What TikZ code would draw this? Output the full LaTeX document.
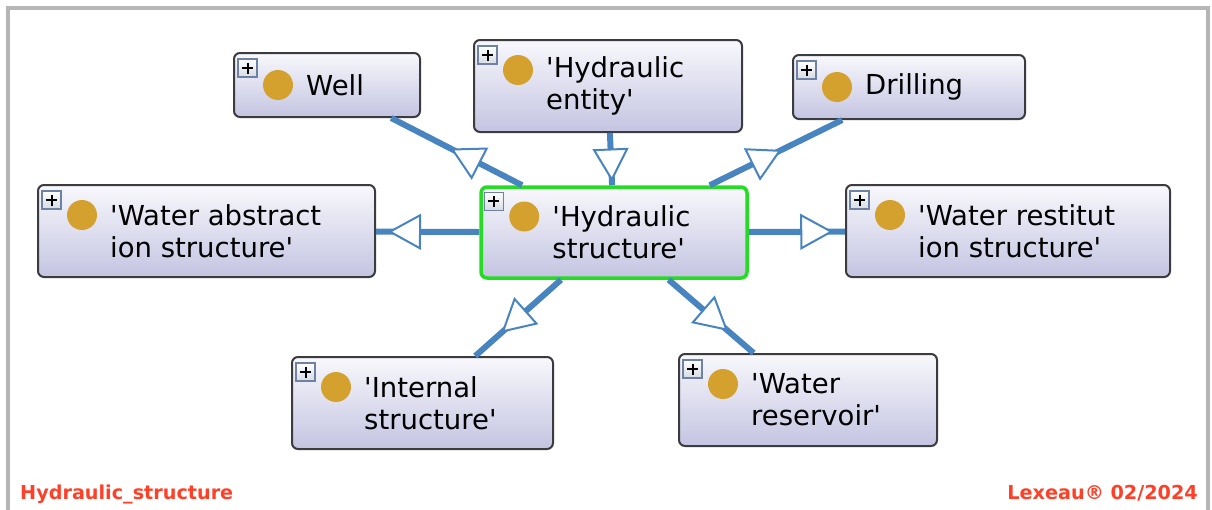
\documentclass[tikz,border=0pt]{standalone}
\usepackage{fontspec}
\setmainfont{DejaVu Sans}
\usetikzlibrary{shapes.geometric, arrows.meta}

\definecolor{framegray}{RGB}{182,182,182}
\definecolor{boxtop}{RGB}{248,248,252}
\definecolor{boxbot}{RGB}{196,196,226}
\definecolor{boxline}{RGB}{60,60,64}
\definecolor{linkblue}{RGB}{72,132,192}
\definecolor{selgreen}{RGB}{34,221,34}
\definecolor{dotgold}{RGB}{212,160,46}
\definecolor{footred}{RGB}{255,64,40}
\definecolor{plusfill}{RGB}{214,218,226}
\definecolor{plusline}{RGB}{110,130,165}

\newcommand{\sq}{\textquotesingle}

\begin{document}
\begin{tikzpicture}[
            x=1pt, y=-1pt,
            classbox/.style={rectangle, rounded corners=6pt, draw=boxline, line width=2pt, top color=boxtop, bottom color=boxbot},
            selected/.style={draw=selgreen, line width=3.5pt},
            classtext/.style={anchor=west, inner sep=0pt, align=left, font=\fontsize{27.5}{32}\selectfont},
            plusbox/.style={draw=plusline, top color=white, bottom color=plusfill, line width=1.2pt},
            link/.style={draw=linkblue, line width=6pt},
            tri/.style={isosceles triangle, isosceles triangle stretches, draw=linkblue, fill=white, line width=2pt, inner sep=0pt, minimum height=30pt, minimum width=33pt, sloped, allow upside down},
            footer/.style={text=footred, font=\bfseries\fontsize{19.2}{22}\selectfont, inner sep=0pt}
            ]

            \useasboundingbox (0,0) rectangle (1212,509);
            \draw[framegray, line width=4pt] (8,515) -- (8,8) -- (1208,8) -- (1208,515);

            % class boxes
            \node[classbox, minimum width=186pt, minimum height=64pt] (well) at (327,85) {};
            \node[classbox, minimum width=268pt, minimum height=92pt] (hent) at (608,86) {};
            \node[classbox, minimum width=232pt, minimum height=64pt] (drill) at (909,87) {};
            \node[classbox, minimum width=337pt, minimum height=92pt] (wabs) at (206.5,231) {};
            \node[classbox, selected, minimum width=266pt, minimum height=91pt] (hstr) at (614,232.5) {};
            \node[classbox, minimum width=324pt, minimum height=92pt] (wres) at (1008,231) {};
            \node[classbox, minimum width=261pt, minimum height=92pt] (intl) at (422.5,403) {};
            \node[classbox, minimum width=258pt, minimum height=92pt] (wresv) at (808,400) {};

            % names
            \node[classtext] (wellt) at ([xshift=73pt]well.west) {Well};
            \node[classtext] (hentt) at ([xshift=73pt]hent.west) {\sq Hydraulic\\entity\sq};
            \node[classtext] (drillt) at ([xshift=73pt]drill.west) {Drilling};
            \node[classtext] (wabst) at ([xshift=73pt]wabs.west) {\sq Water abstract\\ion structure\sq};
            \node[classtext] (hstrt) at ([xshift=73pt]hstr.west) {\sq Hydraulic\\structure\sq};
            \node[classtext] (wrest) at ([xshift=73pt]wres.west) {\sq Water restitut\\ion structure\sq};
            \node[classtext] (intlt) at ([xshift=73pt]intl.west) {\sq Internal\\structure\sq};
            \node[classtext] (wresvt) at ([xshift=73pt]wresv.west) {\sq Water\\reservoir\sq};

            % expand buttons and class dots
            \foreach \n/\dy in {well/0, hent/-16, drill/0, wabs/-16, hstr/-16, wres/-16, intl/-16, wresv/-16} {
                \draw[plusbox] ([shift={(5,7)}]\n.north west) rectangle ++(19,18);
                \draw[line width=2pt] ([shift={(9,16)}]\n.north west) -- ++(11,0);
                \draw[line width=2pt] ([shift={(14.5,10.5)}]\n.north west) -- ++(0,11);
                \fill[dotgold] ([shift={(45,\dy)}]\n.west) circle (15pt);
            }

            % is-a links
            \foreach \a/\b in {hstr/well, hent/hstr, hstr/drill, hstr/wabs, hstr/wres, hstr/intl, hstr/wresv} {
                \draw[link] (\a) -- (\b);
                \path (\a.center) -- node[tri] {} (\b.center);
            }

            \node[footer, anchor=base west] (fname) at (20,499) {Hydraulic\_structure};
            \node[footer, anchor=base east] (fcopy) at (1198,499) {Lexeau® 02/2024};
        \end{tikzpicture}
\end{document}
